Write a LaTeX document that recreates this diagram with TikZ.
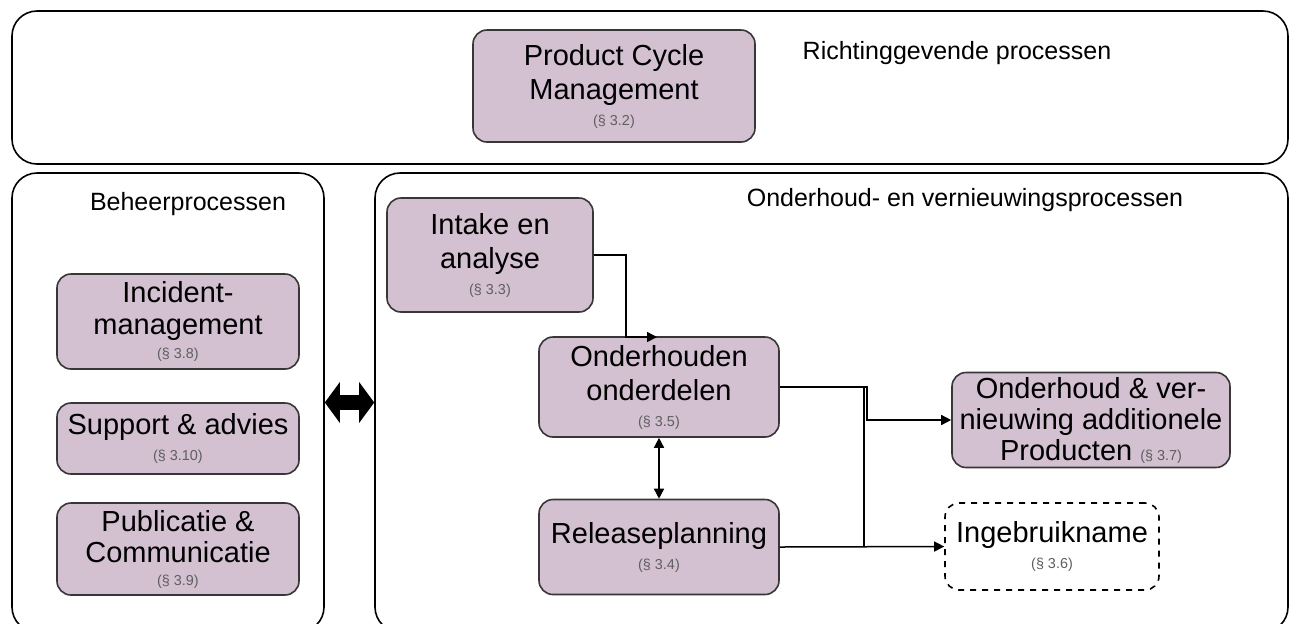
\documentclass[tikz,border=0pt]{standalone}
\usepackage{fontspec}
\setmainfont{Liberation Sans}
\usetikzlibrary{arrows.meta}
\definecolor{procfill}{RGB}{211,192,209}
\definecolor{procline}{RGB}{55,55,55}
\definecolor{refgray}{RGB}{95,95,95}
\newcommand{\pref}[1]{{\fontsize{7.2}{8}\selectfont\color{refgray}(§ #1)}}

\begin{document}
\begin{tikzpicture}[x=0.5pt,y=-0.5pt,
  proc/.style={draw=procline,fill=procfill,rounded corners=7pt,line width=0.8pt,
    align=center,font=\fontsize{14.5}{17}\selectfont,inner sep=0pt},
  group/.style={draw,rounded corners=12.5pt,line width=0.8pt},
  flow/.style={line width=0.75pt,-{Triangle[length=5pt,width=5pt]}},
  lbl/.style={font=\fontsize{12.5}{14}\selectfont}]
\clip (0,0) rectangle (1290,623);
% groups
\node[group,minimum width=638pt,minimum height=76.5pt] (richt) at (650,87.5) {};
\node[group,minimum width=156pt,minimum height=229.5pt] (beheer) at (168,402.5) {};
\node[group,minimum width=456.5pt,minimum height=229.5pt] (onderhoud) at (831.5,402.5) {};
\node[lbl] (richtlbl) at (957,53) {Richtinggevende processen};
\node[lbl] (beheerlbl) at (188,204) {Beheerprocessen};
\node[lbl] (onderhoudlbl) at (965,200) {Onderhoud- en vernieuwingsprocessen};

% processes
\node[proc,minimum width=141pt,minimum height=56pt] (pcm) at (614,86) {Product Cycle\\Management\\[-4pt]\pref{3.2}};
\node[proc,minimum width=103pt,minimum height=57pt] (intake) at (490,255) {Intake en\\analyse\\[-4pt]\pref{3.3}};
\node[proc,minimum width=120pt,minimum height=50pt] (onderdelen) at (659,387) {Onderhouden\\onderdelen\\[-4pt]\pref{3.5}};
\node[proc,minimum width=120pt,minimum height=47.5pt] (release) at (659,547) {Releaseplanning\\[-4pt]\pref{3.4}};
\node[proc,minimum width=139pt,minimum height=47.5pt,font=\fontsize{14.5}{15.5}\selectfont] (addit) at (1091,420) {Onderhoud \& ver-\\nieuwing additionele\\Producten \pref{3.7}};
\node[proc,dashed,draw=black,fill=white,minimum width=107pt,minimum height=43.5pt] (ingebr) at (1052,546.5) {Ingebruikname\\[-4pt]\pref{3.6}};
\node[proc,minimum width=121pt,minimum height=47.5pt,font=\fontsize{14.5}{16}\selectfont] (incident) at (178,321.5) {Incident-\\management\\[-4pt]\pref{3.8}};
\node[proc,minimum width=121pt,minimum height=35.5pt] (support) at (178,438.5) {Support \& advies\\[-4pt]\pref{3.10}};
\node[proc,minimum width=121pt,minimum height=46pt,font=\fontsize{14.5}{15.5}\selectfont] (publ) at (178,549) {Publicatie \&\\Communicatie\\[-4pt]\pref{3.9}};

% connectors
\coordinate (in1) at (657,337);
\draw[flow] (intake.east) -- ++(32,0) |- (in1);
\draw[flow] (onderdelen.east) -- ++(87,0) |- (addit.west);
\draw[line width=0.75pt] (onderdelen.east) -- ++(84,0) |- (ingebr.west);
\draw[flow] (release.east) -- (ingebr.west);
\draw[line width=0.75pt,{Triangle[length=5pt,width=5pt]}-{Triangle[length=5pt,width=5pt]}] (onderdelen.south) -- (release.north);
\draw[line width=7.5pt,{Triangle[length=7.5pt,width=20pt]}-{Triangle[length=7.5pt,width=20pt]}] (beheer.east) -- (onderhoud.west);
\end{tikzpicture}
\end{document}
